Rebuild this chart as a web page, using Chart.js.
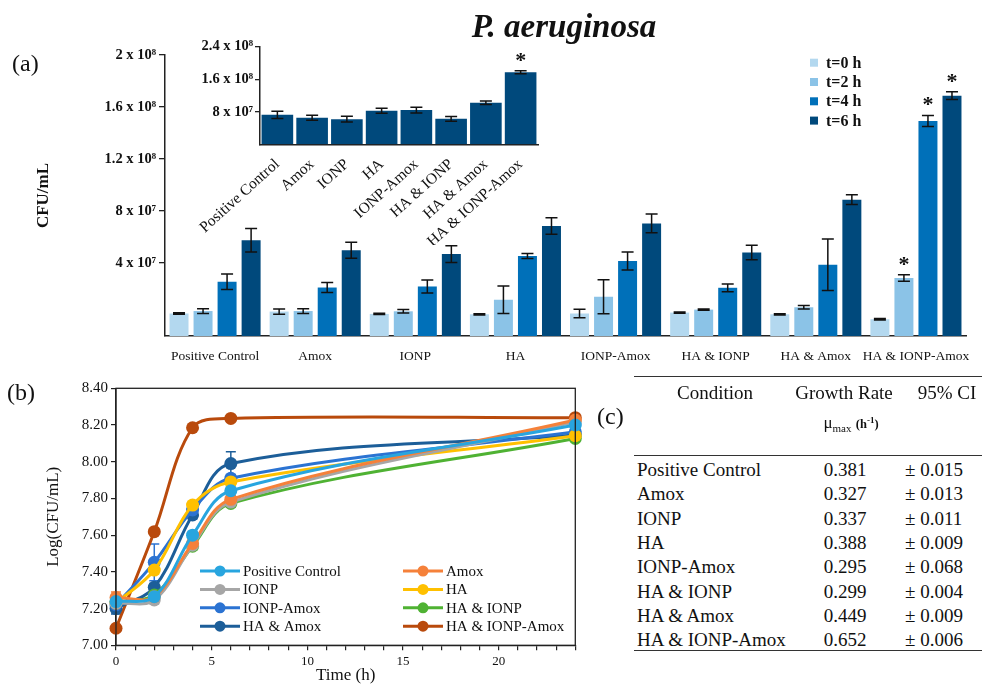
<!DOCTYPE html>
<html>
<head>
<meta charset="utf-8">
<script src="https://cdn.jsdelivr.net/npm/chart.js@4.4.0/dist/chart.umd.min.js"></script>
<style>
body { margin: 0; background: #fff; }
#wrap { position: relative; width: 982px; height: 686px; overflow: hidden; font-family: "Liberation Serif", serif; color: #111; }
canvas { position: absolute; }
.t { position: absolute; white-space: nowrap; line-height: 1; }
.c { transform: translateX(-50%); }
.rule { position: absolute; left: 634px; width: 348px; height: 0; border-top: 1.5px solid #333; }
</style>
</head>
<body>
<div id="wrap">
  <canvas id="bars" width="982" height="372" style="left:0;top:0"></canvas>
  <canvas id="inset" width="400" height="215" style="left:150px;top:30px"></canvas>
  <canvas id="growth" width="600" height="316" style="left:0;top:370px"></canvas>
  <div class="t" style="left:12px;top:51px;font-size:24px">(a)</div>
  <div class="t c" style="left:564px;top:10px;font-size:33px;font-weight:bold;font-style:italic">P. aeruginosa</div>
  <div class="t" style="left:7px;top:380px;font-size:24px">(b)</div>
  <div class="t" style="left:597px;top:404px;font-size:24px">(c)</div>
  <div id="table"></div>
</div>
<script>
// panel (a): CFU/mL, in units of 1e7, read against the printed axis
const groups = ['Positive Control', 'Amox', 'IONP', 'HA', 'IONP-Amox', 'HA & IONP', 'HA & Amox', 'HA & IONP-Amox'];
const timeLabels = ['t=0 h', 't=2 h', 't=4 h', 't=6 h'];
const cfu0h = [0.11, 0.26, 0.08, 0.05, 0.11, 0.18, 0.05, -0.33];
const cfu2h = [0.30, 0.30, 0.28, 1.17, 1.40, 0.41, 0.59, 2.85];
const cfu4h = [2.55, 2.11, 2.19, 4.53, 4.15, 2.09, 3.86, 14.92];
const cfu6h = [5.75, 4.98, 4.68, 6.84, 7.04, 4.80, 8.87, 16.87];
const err0h = [0.05, 0.20, 0.05, 0.05, 0.33, 0.05, 0.05, 0.05];
const err2h = [0.18, 0.18, 0.13, 1.05, 1.31, 0.05, 0.13, 0.25];
const err4h = [0.60, 0.39, 0.50, 0.19, 0.69, 0.30, 1.98, 0.43];
const err6h = [0.90, 0.62, 0.65, 0.63, 0.72, 0.56, 0.38, 0.30];
const barTicks = [4e7, 8e7, 1.2e8, 1.6e8, 2e8];
const barTickLabels = ['4 x 10⁷', '8 x 10⁷', '1.2 x 10⁸', '1.6 x 10⁸', '2 x 10⁸'];

// inset: 6 h, units of 1e7
const insetCfu = [7.25, 6.51, 6.19, 8.24, 8.42, 6.26, 10.22, 17.72];
const insetErr = [0.90, 0.62, 0.70, 0.62, 0.70, 0.58, 0.41, 0.37];
const insetTicks = [8e7, 1.6e8, 2.4e8];
const insetTickLabels = ['8 x 10⁷', '1.6 x 10⁸', '2.4 x 10⁸'];

// panel (b): Log(CFU/mL)
const hours = [0, 2, 4, 6, 24];
const logPC = [7.238, 7.265, 7.600, 7.842, 8.200];
const logAmox = [7.260, 7.265, 7.555, 7.795, 8.227];
const logIONP = [7.230, 7.247, 7.545, 7.780, 8.218];
const logHA = [7.230, 7.410, 7.764, 7.890, 8.142];
const logIONPAmox = [7.220, 7.452, 7.737, 7.910, 8.163];
const logHAIONP = [7.237, 7.274, 7.540, 7.773, 8.127];
const logHAAmox = [7.200, 7.316, 7.710, 7.990, 8.145];
const logHAIONPAmox = [7.093, 7.619, 8.185, 8.236, 8.240];
const logErrPC = [0.02, 0.02, 0.02, 0.03, 0.01];
const logErrAmox = [0.03, 0.02, 0.02, 0.02, 0.01];
const logErrIONP = [0.02, 0.02, 0.02, 0.02, 0.01];
const logErrHA = [0.02, 0.02, 0.02, 0.02, 0.01];
const logErrIONPAmox = [0.02, 0.10, 0.02, 0.02, 0.01];
const logErrHAIONP = [0.02, 0.02, 0.02, 0.02, 0.01];
const logErrHAAmox = [0.03, 0.02, 0.02, 0.064, 0.01];
const logErrHAIONPAmox = [0.01, 0.01, 0.01, 0.01, 0.01];

// panel (c)
const growthRate = ['0.381', '0.327', '0.337', '0.388', '0.295', '0.299', '0.449', '0.652'];
const growthCI = ['0.015', '0.013', '0.011', '0.009', '0.068', '0.004', '0.009', '0.006'];

const serif = '"Liberation Serif", serif';
Chart.defaults.font.family = serif;
Chart.defaults.color = '#111';

const e7 = a => a.map(v => v * 1e7);
const yBase = -1.62e7;

const errorBars = {
  id: 'errorBars',
  draw(chart, o) {
    const ctx = chart.ctx, y = chart.scales.y;
    chart.data.datasets.forEach((ds, i) => {
      if (!ds.errors) return;
      chart.getDatasetMeta(i).data.forEach((el, j) => {
        const raw = ds.data[j];
        const v = typeof raw === 'object' ? raw.y : raw;
        const top = y.getPixelForValue(v + ds.errors[j]);
        const bot = y.getPixelForValue(v - ds.errors[j]);
        ctx.save();
        ctx.strokeStyle = o.color || ds.borderColor;
        ctx.lineWidth = o.width;
        ctx.beginPath();
        ctx.moveTo(el.x, top); ctx.lineTo(el.x, bot);
        ctx.moveTo(el.x - o.cap, top); ctx.lineTo(el.x + o.cap, top);
        ctx.moveTo(el.x - o.cap, bot); ctx.lineTo(el.x + o.cap, bot);
        ctx.stroke();
        ctx.restore();
      });
    });
  },
  beforeDatasetsDraw(chart, args, o) { if (o.behind) this.draw(chart, o); },
  afterDatasetsDraw(chart, args, o) { if (!o.behind) this.draw(chart, o); }
};

const stars = {
  id: 'stars',
  afterDatasetsDraw(chart, args, o) {
    const ctx = chart.ctx;
    ctx.save();
    ctx.font = 'bold 22px ' + serif;
    ctx.fillStyle = '#111';
    ctx.textAlign = 'center';
    ctx.textBaseline = 'alphabetic';
    (o.marks || []).forEach(([d, i]) => {
      const ds = chart.data.datasets[d];
      const el = chart.getDatasetMeta(d).data[i];
      const top = chart.scales.y.getPixelForValue(ds.data[i] + ds.errors[i]);
      ctx.fillText('*', el.x, top + o.shift);
    });
    ctx.restore();
  }
};

const boxLegend = {
  id: 'boxLegend',
  afterDraw(chart, args, o) {
    if (!o.x) return;
    const ctx = chart.ctx;
    ctx.save();
    ctx.font = 'bold 16px ' + serif;
    ctx.textBaseline = 'middle';
    chart.data.datasets.forEach((ds, i) => {
      const y = o.y + i * o.row;
      ctx.fillStyle = ds.backgroundColor;
      ctx.fillRect(o.x, y - o.box / 2, o.box, o.box);
      ctx.fillStyle = '#111';
      ctx.fillText(ds.label, o.x + 16, y + 1);
    });
    ctx.restore();
  }
};

const frame = {
  id: 'frame',
  afterDraw(chart) {
    const {left, top, right, bottom} = chart.chartArea;
    const ctx = chart.ctx;
    ctx.save();
    ctx.strokeStyle = '#222';
    ctx.lineWidth = 1.3;
    ctx.strokeRect(left, top, right - left, bottom - top);
    ctx.restore();
  }
};

const lineLegend = {
  id: 'lineLegend',
  afterDraw(chart, args, o) {
    const ctx = chart.ctx;
    ctx.save();
    ctx.font = '15px ' + serif;
    ctx.textBaseline = 'middle';
    chart.data.datasets.forEach((ds, i) => {
      const x = o.x[i % 2], y = o.y + Math.floor(i / 2) * o.row;
      ctx.strokeStyle = ds.borderColor;
      ctx.lineWidth = 3;
      ctx.beginPath(); ctx.moveTo(x, y); ctx.lineTo(x + o.len, y); ctx.stroke();
      ctx.fillStyle = ds.borderColor;
      ctx.beginPath(); ctx.arc(x + o.len / 2, y, 5.5, 0, Math.PI * 2); ctx.fill();
      ctx.fillStyle = '#111';
      ctx.fillText(ds.label, x + o.len + 3, y + 1);
    });
    ctx.restore();
  }
};

const barColors = ['#b3d8ef', '#8bc3e7', '#0070b9', '#00497c'];
const barData = [cfu0h, cfu2h, cfu4h, cfu6h];
const barErr = [err0h, err2h, err4h, err6h];

new Chart(document.getElementById('bars'), {
  type: 'bar',
  data: {
    labels: groups,
    datasets: timeLabels.map((t, k) => ({
      label: t,
      data: e7(barData[k]),
      errors: e7(barErr[k]),
      backgroundColor: barColors[k],
      base: yBase
    }))
  },
  options: {
    responsive: false,
    animation: false,
    layout: { padding: { top: 55, right: 13, left: 0, bottom: 0 } },
    datasets: { bar: { categoryPercentage: 0.96, barPercentage: 0.79 } },
    scales: {
      x: {
        grid: { display: false, drawTicks: false },
        border: { color: '#222', width: 1.5 },
        ticks: { font: { size: 13.5 }, padding: 12, maxRotation: 0, autoSkip: false },
        afterFit: s => { s.height = 36; }
      },
      y: {
        min: yBase,
        max: 2e8,
        afterBuildTicks: s => { s.ticks = barTicks.map(v => ({ value: v })); },
        ticks: { callback: (v, i) => barTickLabels[i], font: { size: 14.5, weight: 'bold' }, padding: 3 },
        grid: { drawOnChartArea: false, tickLength: 6, color: '#222', lineWidth: 1.3 },
        border: { color: '#222', width: 1.5 },
        title: { display: true, text: 'CFU/mL', font: { size: 17, weight: 'bold' }, padding: { top: 33 } },
        afterFit: s => { s.width = 165; }
      }
    },
    plugins: {
      legend: { display: false },
      tooltip: { enabled: false },
      errorBars: { cap: 6, width: 1.5, color: '#111' },
      stars: { marks: [[1, 7], [2, 7], [3, 7]], shift: -4 },
      boxLegend: { x: 810, y: 62.7, row: 19.3, box: 8 }
    }
  },
  plugins: [errorBars, stars, boxLegend]
});

new Chart(document.getElementById('inset'), {
  type: 'bar',
  data: {
    labels: groups,
    datasets: [{ label: '6 h', data: e7(insetCfu), errors: e7(insetErr), backgroundColor: '#00497c' }]
  },
  options: {
    responsive: false,
    animation: false,
    layout: { padding: { top: 16.7, right: 12, left: 0, bottom: 0 } },
    datasets: { bar: { categoryPercentage: 1, barPercentage: 0.91 } },
    scales: {
      x: {
        grid: { display: false, drawTicks: false },
        border: { color: '#222', width: 1.5 },
        ticks: { font: { size: 15.5 }, padding: 11, minRotation: 42, maxRotation: 42, autoSkip: false },
        afterFit: s => { s.height = 100.7; }
      },
      y: {
        min: 0,
        max: 2.4e8,
        afterBuildTicks: s => { s.ticks = insetTicks.map(v => ({ value: v })); },
        ticks: { callback: (v, i) => insetTickLabels[i], font: { size: 14.5, weight: 'bold' }, padding: 2 },
        grid: { drawOnChartArea: false, tickLength: 5, color: '#222', lineWidth: 1.3 },
        border: { color: '#222', width: 1.5 },
        afterFit: s => { s.width = 110; }
      }
    },
    plugins: {
      legend: { display: false },
      tooltip: { enabled: false },
      errorBars: { cap: 6, width: 1.5, color: '#111' },
      stars: { marks: [[0, 7]], shift: -4 }
    }
  },
  plugins: [errorBars, stars]
});

const seriesNames = groups;
const logSeries = [logPC, logAmox, logIONP, logHA, logIONPAmox, logHAIONP, logHAAmox, logHAIONPAmox];
const logErrors = [logErrPC, logErrAmox, logErrIONP, logErrHA, logErrIONPAmox, logErrHAIONP, logErrHAAmox, logErrHAIONPAmox];
const lineColors = ['#28a5df', '#f5813a', '#a6a6a6', '#ffc000', '#2b73d2', '#4fb233', '#1c5e99', '#b94a0c'];

new Chart(document.getElementById('growth'), {
  type: 'line',
  data: {
    datasets: seriesNames.map((name, k) => ({
      label: name,
      data: hours.map((h, i) => ({ x: h, y: logSeries[k][i] })),
      errors: logErrors[k],
      borderColor: lineColors[k],
      backgroundColor: lineColors[k],
      borderWidth: 3,
      pointRadius: 6.5,
      pointBorderWidth: 0,
      tension: 0.35,
      clip: false
    }))
  },
  options: {
    responsive: false,
    animation: false,
    layout: { padding: { top: 18.3, right: 24.7, left: 0, bottom: 0 } },
    scales: {
      x: {
        type: 'linear',
        min: 0,
        max: 24,
        grid: { drawOnChartArea: false, tickLength: 5, color: '#222', lineWidth: 1.2 },
        border: { color: '#222', width: 1.3 },
        ticks: { stepSize: 1, autoSkip: false, maxRotation: 0, callback: v => (v % 5 === 0 ? v : ''), font: { size: 13 }, padding: 3 },
        title: { display: true, text: 'Time (h)', font: { size: 17 }, padding: { top: -6, bottom: 0 } },
        afterFit: s => { s.height = 40.7; }
      },
      y: {
        min: 7,
        max: 8.4,
        grid: { drawOnChartArea: false, tickLength: 5, color: '#222', lineWidth: 1.2 },
        border: { color: '#222', width: 1.3 },
        ticks: { stepSize: 0.2, callback: v => v.toFixed(2), font: { size: 15 }, padding: 3 },
        title: { display: true, text: 'Log(CFU/mL)', font: { size: 17 }, padding: { top: 43 } },
        afterFit: s => { s.width = 116; }
      }
    },
    plugins: {
      legend: { display: false },
      tooltip: { enabled: false },
      errorBars: { cap: 5, width: 1.5, behind: true },
      lineLegend: { x: [200, 403], y: 201, row: 18.4, len: 40 }
    }
  },
  plugins: [errorBars, frame, lineLegend]
});

// table (c)
const table = document.getElementById('table');
let html = '<div class="rule" style="top:376px"></div><div class="rule" style="top:455px"></div><div class="rule" style="top:650px"></div>';
html += '<div class="t c" style="left:715px;top:383px;font-size:19px">Condition</div>';
html += '<div class="t c" style="left:844px;top:383px;font-size:19px">Growth Rate</div>';
html += '<div class="t c" style="left:947px;top:383px;font-size:19px">95% CI</div>';
html += '<div class="t c" style="left:851px;top:414px;font-size:17px">μ<sub style="font-size:11px">max</sub> <b style="font-size:12.5px">(h<sup style="font-size:9px">-1</sup>)</b></div>';
groups.forEach((g, i) => {
  const top = 469 + i * 24.3 - 9;
  html += '<div class="t" style="left:637px;top:' + top + 'px;font-size:19px">' + g.replace(/&/g, '&amp;') + '</div>';
  html += '<div class="t c" style="left:845px;top:' + top + 'px;font-size:19px">' + growthRate[i] + '</div>';
  html += '<div class="t" style="left:905px;top:' + top + 'px;font-size:19px">± ' + growthCI[i] + '</div>';
});
table.innerHTML = html;
</script>
</body>
</html>
